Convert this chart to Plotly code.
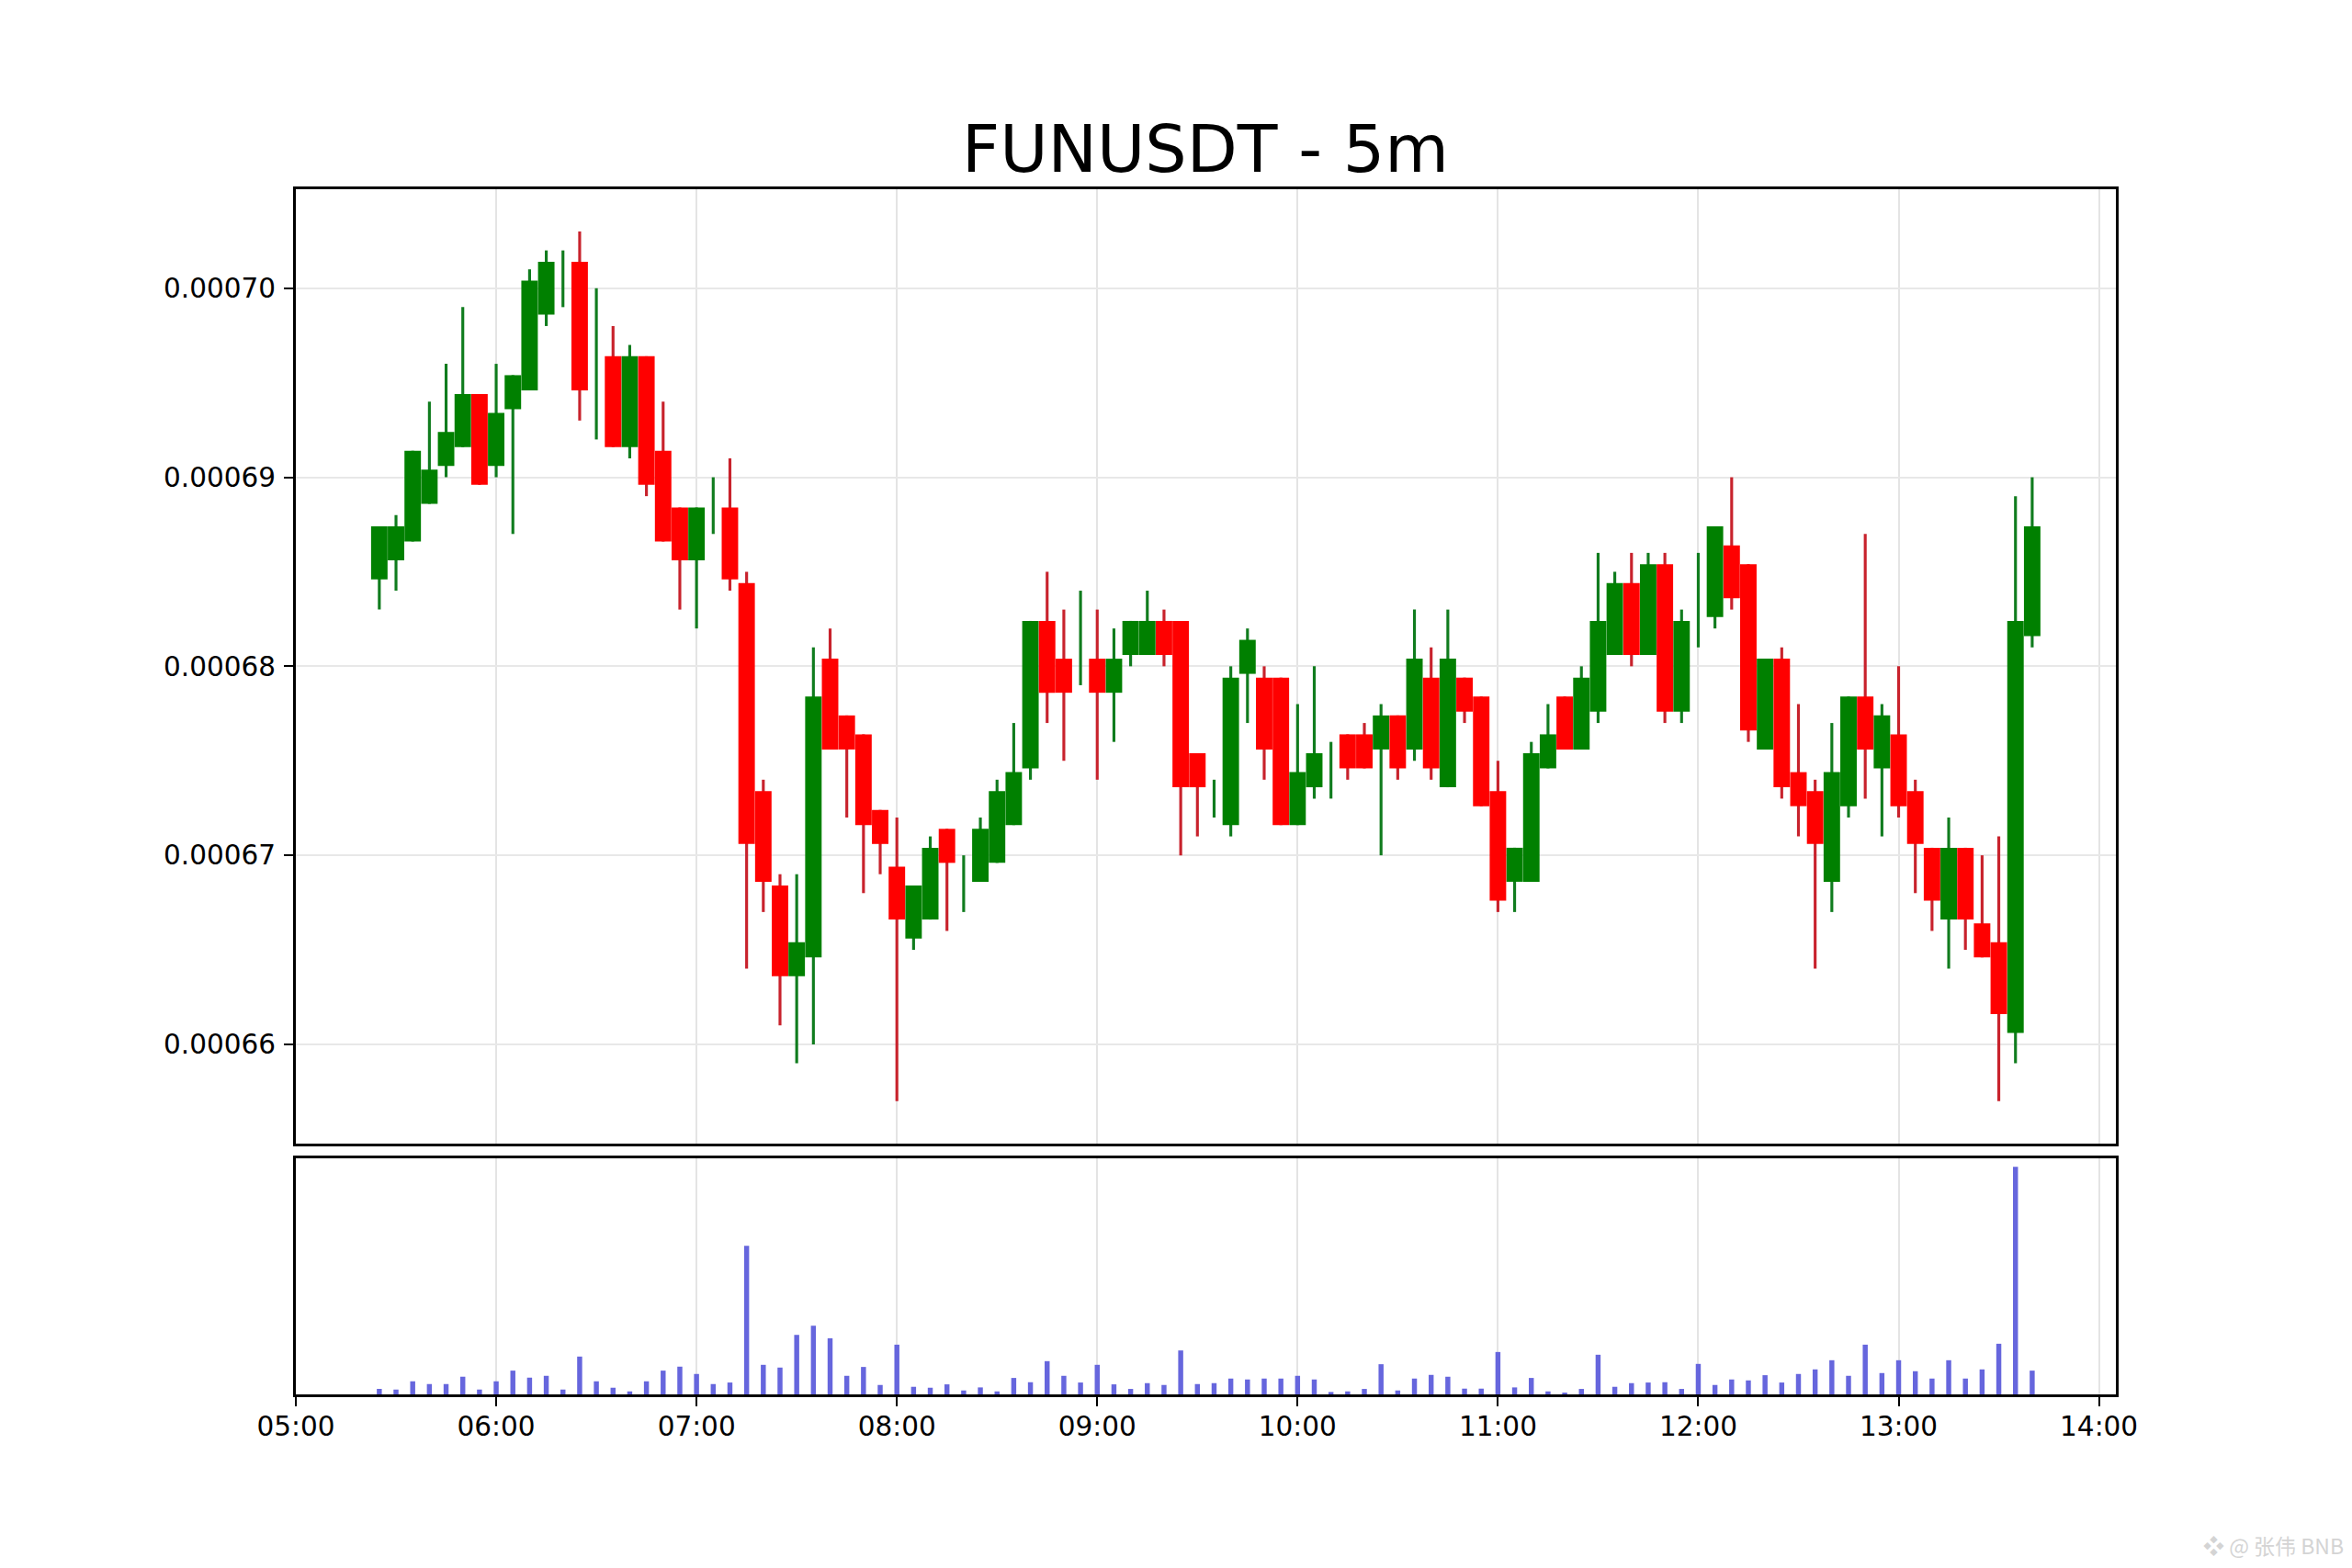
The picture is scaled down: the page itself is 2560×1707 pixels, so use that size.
import pandas as pd
import plotly.graph_objects as go

# prices are in units of 1e-6 USDT
opens = [684.6, 685.6, 686.6, 688.6, 690.6, 691.6, 694.4, 690.6, 693.6, 694.6,
         698.6, 701, 701.4, 696, 696.4, 691.6, 696.4, 691.4, 688.4, 685.6,
         689, 688.4, 684.4, 673.4, 668.4, 663.6, 664.6, 680.4, 677.4, 676.4,
         672.4, 669.4, 665.6, 666.6, 671.4, 669, 668.6, 669.6, 671.6, 674.6,
         682.4, 680.4, 681, 680.4, 678.6, 680.6, 680.6, 682.4, 682.4, 675.4,
         673, 671.6, 679.6, 679.4, 679.4, 671.6, 673.6, 675, 676.4, 676.4,
         675.6, 677.4, 675.6, 679.4, 673.6, 679.4, 678.4, 673.4, 668.6, 668.6,
         674.6, 678.4, 675.6, 677.6, 680.6, 684.4, 680.6, 685.4, 677.6, 683,
         682.6, 686.4, 685.4, 675.6, 680.4, 674.4, 673.4, 668.6, 672.6, 678.4,
         674.6, 676.4, 673.4, 670.4, 666.6, 670.4, 666.4, 665.4, 660.6, 681.6]
closes = [687.4, 687.4, 691.4, 690.4, 692.4, 694.4, 689.6, 693.4, 695.4, 700.4,
          701.4, 701, 694.6, 696, 691.6, 696.4, 689.6, 686.6, 685.6, 688.4,
          689, 684.6, 670.6, 668.6, 663.6, 665.4, 678.4, 675.6, 675.6, 671.6,
          670.6, 666.6, 668.4, 670.4, 669.6, 669, 671.4, 673.4, 674.4, 682.4,
          678.6, 678.6, 681, 678.6, 680.4, 682.4, 682.4, 680.6, 673.6, 673.6,
          673, 679.4, 681.4, 675.6, 671.6, 674.4, 675.4, 675, 674.6, 674.6,
          677.4, 674.6, 680.4, 674.6, 680.4, 677.6, 672.6, 667.6, 670.4, 675.4,
          676.4, 675.6, 679.4, 682.4, 684.4, 680.6, 685.4, 677.6, 682.4, 683,
          687.4, 683.6, 676.6, 680.4, 673.6, 672.6, 670.6, 674.4, 678.4, 675.6,
          677.4, 672.6, 670.6, 667.6, 670.4, 666.6, 664.6, 661.6, 682.4, 687.4]
highs = [687.4, 688, 691.4, 694, 696, 699, 694.4, 696, 695.4, 701,
         702, 702, 703, 700, 698, 697, 696.4, 694, 688.4, 688.4,
         690, 691, 685, 674, 669, 669, 681, 682, 677.4, 676.4,
         672.4, 672, 668.4, 671, 671.4, 670, 672, 674, 677, 682.4,
         685, 683, 684, 683, 682, 682.4, 684, 683, 682.4, 675.4,
         674, 680, 682, 680, 679.4, 678, 680, 676, 676.4, 677,
         678, 677.4, 683, 681, 683, 679.4, 678.4, 675, 670.4, 676,
         678, 678.4, 680, 686, 685, 686, 686, 686, 683, 686,
         687.4, 690, 685.4, 680.4, 681, 678, 674, 677, 678.4, 687,
         678, 680, 674, 670.4, 672, 670.4, 670, 671, 689, 690]
lows = [683, 684, 686.6, 688.6, 690, 691.6, 689.6, 690, 687, 694.6,
        698, 699, 693, 692, 691.6, 691, 689, 686.6, 683, 682,
        687, 684, 664, 667, 661, 659, 660, 675.6, 672, 668,
        669, 657, 665, 666.6, 666, 667, 668.6, 669.6, 671.6, 674,
        677, 675, 679, 674, 676, 680, 680.6, 680, 670, 671,
        672, 671, 677, 674, 671.6, 671.6, 673, 673, 674, 674.6,
        670, 674, 675, 674, 673.6, 677, 672.6, 667, 667, 668.6,
        674.6, 675.6, 675.6, 677, 680.6, 680, 680.6, 677, 677, 681,
        682, 683, 676, 675.6, 673, 671, 664, 667, 672, 673,
        671, 672, 668, 666, 664, 665, 664.6, 657, 659, 681]
# bars that read green on the chart even where open == close
green = [1, 1, 1, 1, 1, 1, 0, 1, 1, 1,
         1, 1, 0, 1, 0, 1, 0, 0, 0, 1,
         1, 0, 0, 0, 0, 1, 1, 0, 0, 0,
         0, 0, 1, 1, 0, 1, 1, 1, 1, 1,
         0, 0, 1, 0, 1, 1, 1, 0, 0, 0,
         1, 1, 1, 0, 0, 1, 1, 1, 0, 0,
         1, 0, 1, 0, 1, 0, 0, 0, 1, 1,
         1, 0, 1, 1, 1, 0, 1, 0, 1, 1,
         1, 0, 0, 1, 0, 0, 0, 1, 1, 0,
         1, 0, 0, 0, 1, 0, 0, 0, 1, 1]
# no scale on the chart, so volume is relative
volumes = [18, 16, 43, 34, 34, 58, 16, 43, 78, 55,
           61, 16, 124, 43, 22, 10, 43, 78, 91, 67,
           34, 39, 487, 97, 88, 195, 225, 184, 61, 90,
           31, 163, 25, 22, 33, 13, 23, 10, 54, 40,
           109, 61, 39, 97, 33, 18, 37, 31, 144, 34,
           37, 52, 49, 52, 52, 61, 49, 8, 10, 18,
           99, 13, 52, 64, 58, 19, 19, 139, 23, 54,
           10, 6, 18, 130, 25, 37, 39, 40, 18, 100,
           31, 49, 46, 63, 39, 67, 82, 112, 61, 163,
           70, 112, 76, 52, 112, 52, 82, 166, 745, 78]
hour_ticks = ["05:00", "06:00", "07:00", "08:00", "09:00", "10:00", "11:00", "12:00", "13:00", "14:00"]

# the page body has an 8px margin, so the figure is 16px smaller than the window
W, H = 2544, 1691
UNIT = 1e-6


def fx(px):
    return (px - 8) / W


def fy(px):
    return 1 - (px - 8) / H


times = pd.date_range("2025-01-01 05:25", periods=len(opens), freq="5min")

df = pd.DataFrame({"t": times, "o": opens, "c": closes, "h": highs, "l": lows, "g": green})
df["top"] = df[["o", "c"]].max(axis=1)
df["bot"] = df[["o", "c"]].min(axis=1)

BODY_MS = 296000
WICK_MS = 52000
VOL_MS = 90000

fig = go.Figure()

# wicks go first so the bodies sit on top of them
for flag, col in [(1, "#107c1e"), (0, "#c8222c")]:
    d = df[df["g"] == flag]
    fig.add_trace(go.Bar(
        x=d["t"], y=(d["h"] - d["l"]) * UNIT, base=d["l"] * UNIT, width=WICK_MS,
        marker=dict(color=col, line=dict(width=0)), xaxis="x", yaxis="y", showlegend=False
    ))
for flag, col in [(1, "#008000"), (0, "#ff0000")]:
    d = df[df["g"] == flag]
    fig.add_trace(go.Bar(
        x=d["t"], y=(d["top"] - d["bot"]) * UNIT, base=d["bot"] * UNIT, width=BODY_MS,
        marker=dict(color=col, line=dict(width=0)), xaxis="x", yaxis="y", showlegend=False
    ))

fig.add_trace(go.Bar(
    x=times, y=volumes, width=VOL_MS,
    marker=dict(color="#6666dd", line=dict(width=0)), xaxis="x2", yaxis="y2", showlegend=False
))

x_range = ["2025-01-01 04:59:56", "2025-01-01 14:05:08"]
x_ticks = pd.date_range("2025-01-01 05:00", periods=len(hour_ticks), freq="1h")
frame = dict(showline=True, mirror=True, linecolor="black", linewidth=2.5, automargin=False)

fig.update_layout(
    width=W, height=H, autosize=False,
    margin=dict(l=0, r=0, t=0, b=0),
    paper_bgcolor="white", plot_bgcolor="white",
    barmode="overlay", showlegend=False,
    font=dict(family="DejaVu Sans", color="black", size=29.5),
    title=dict(text="FUNUSDT - 5m", font=dict(size=71.5), x=fx(1312), xanchor="center",
               y=fy(186.7), yanchor="bottom", yref="container", pad=dict(b=0)),
    xaxis=dict(domain=[fx(321.75), fx(2303.25)], range=x_range, tickvals=x_ticks, ticks="",
               showticklabels=False, showgrid=True, gridcolor="#e4e4e4", gridwidth=2,
               zeroline=False, anchor="y", **frame),
    yaxis=dict(domain=[fy(1244.75), fy(205.95)], range=[654.76 * UNIT, 705.24 * UNIT],
               tickvals=[660 * UNIT, 670 * UNIT, 680 * UNIT, 690 * UNIT, 700 * UNIT], tickformat=".5f",
               ticks="outside", ticklen=10, tickwidth=2, tickcolor="black", tickfont=dict(size=29.5),
               ticklabelstandoff=3,
               showgrid=True, gridcolor="#e8e8e8", gridwidth=1.5, zeroline=False, anchor="x", **frame),
    xaxis2=dict(domain=[fx(321.75), fx(2303.25)], range=x_range, tickvals=x_ticks, ticktext=hour_ticks,
                ticks="outside", ticklen=10, tickwidth=2, tickcolor="black", tickfont=dict(size=29.5),
                ticklabelstandoff=-3,
                showgrid=True, gridcolor="#e4e4e4", gridwidth=2, zeroline=False, anchor="y2", **frame),
    yaxis2=dict(domain=[fy(1518.05), fy(1260.55)], range=[0, 774.5], showticklabels=False,
                ticks="", showgrid=False, zeroline=False, anchor="x2", **frame),
)

fig.add_annotation(
    text="❖ @ 张伟 BNB", xref="paper", yref="paper", x=fx(2553), y=fy(1682),
    xanchor="right", yanchor="middle", showarrow=False,
    font=dict(family="Noto Sans CJK SC", size=23, color="#d4d4d4")
)

fig.write_html("out.html")
